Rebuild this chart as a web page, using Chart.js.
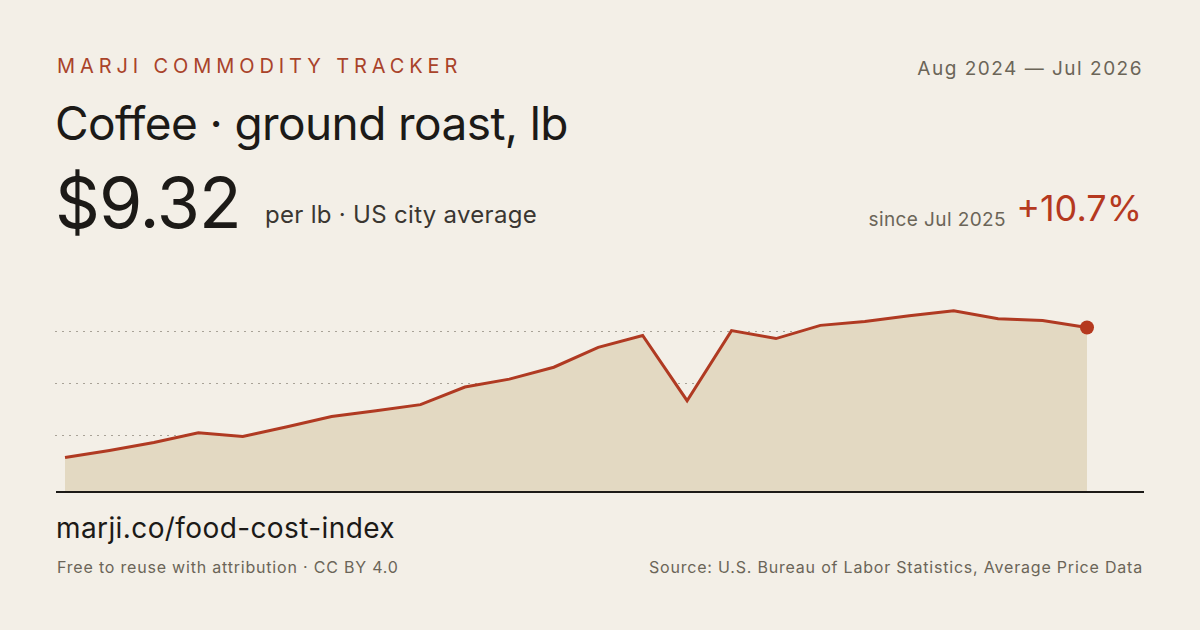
<!DOCTYPE html>
<html><head><meta charset="utf-8">
<script src="https://cdn.jsdelivr.net/npm/chart.js@4"></script>
<style>
body{margin:0;width:1200px;height:630px;background:#f3efe7;font-family:Inter,"Noto Sans",sans-serif;position:relative;overflow:hidden;color:#1c1a17}
.a{position:absolute;white-space:nowrap}
</style></head><body>
<div class="a" style="left:57px;top:54px;font-size:20px;letter-spacing:4.9px;color:#a9432a">MARJI COMMODITY TRACKER</div>
<div class="a" style="right:57px;top:57px;font-size:19px;color:#6b6558;letter-spacing:1.5px">Aug 2024 — Jul 2026</div>
<div class="a" style="left:55px;top:95px;font-size:46px;letter-spacing:-0.6px">Coffee · ground roast, lb</div>
<div class="a" style="left:55px;top:160px;font-size:70px;letter-spacing:-1px">$9.32</div>
<div class="a" style="left:265px;top:200px;font-size:24px;color:#3a3631;letter-spacing:0.3px">per lb · US city average</div>
<div class="a" style="right:194px;top:208px;font-size:19px;color:#6b6558;letter-spacing:0.4px">since Jul 2025</div>
<div class="a" style="right:58px;top:186px;font-size:36px;color:#b5391f">+10.7%</div>
<div style="position:absolute;left:48px;top:284px;width:1050px;height:214px"><canvas id="c"></canvas></div>
<div class="a" style="left:56px;top:491px;width:1088px;height:2px;background:#1c1a17"></div>
<div class="a" style="left:56px;top:511px;font-size:28px;letter-spacing:0.4px">marji.co/food-cost-index</div>
<div class="a" style="left:57px;top:557px;font-size:16px;color:#6b6558;letter-spacing:0.8px">Free to reuse with attribution · CC BY 4.0</div>
<div class="a" style="right:57px;top:557px;font-size:16px;color:#6b6558;letter-spacing:0.8px">Source: U.S. Bureau of Labor Statistics, Average Price Data</div>
<script>
const months=["Aug 2024","Sep 2024","Oct 2024","Nov 2024","Dec 2024","Jan 2025","Feb 2025","Mar 2025","Apr 2025","May 2025","Jun 2025","Jul 2025","Aug 2025","Sep 2025","Oct 2025","Nov 2025","Dec 2025","Jan 2026","Feb 2026","Mar 2026","Apr 2026","May 2026","Jun 2026","Jul 2026"];
const prices=[6.37,6.53,6.71,6.93,6.85,7.07,7.30,7.43,7.57,7.97,8.15,8.42,8.87,9.14,7.66,9.25,9.07,9.37,9.46,9.59,9.70,9.52,9.48,9.32];
const gridTicks=[6.87,8.04,9.23];
const n=prices.length;
new Chart(document.getElementById('c'),{type:'line',
data:{labels:months,datasets:[{data:prices.map((v,i)=>({x:i,y:v})),borderColor:'#b03a22',borderWidth:3,fill:'start',backgroundColor:'#e3d9c2',tension:0,clip:false,
pointRadius:prices.map((v,i)=>i===n-1?7:0),pointBackgroundColor:'#b5391f',pointBorderWidth:0}]},
options:{responsive:true,maintainAspectRatio:false,animation:false,layout:{padding:0},
plugins:{legend:{display:false},tooltip:{enabled:false}},
scales:{x:{type:'linear',min:-0.2255,max:23.09,display:false},
y:{min:5.61,max:10.15,border:{display:false,dash:[2,5]},ticks:{display:false},
afterBuildTicks:s=>{s.ticks=gridTicks.map(v=>({value:v}));},
grid:{color:'#a8a297',lineWidth:1,drawTicks:false}}}}});
</script></body></html>
